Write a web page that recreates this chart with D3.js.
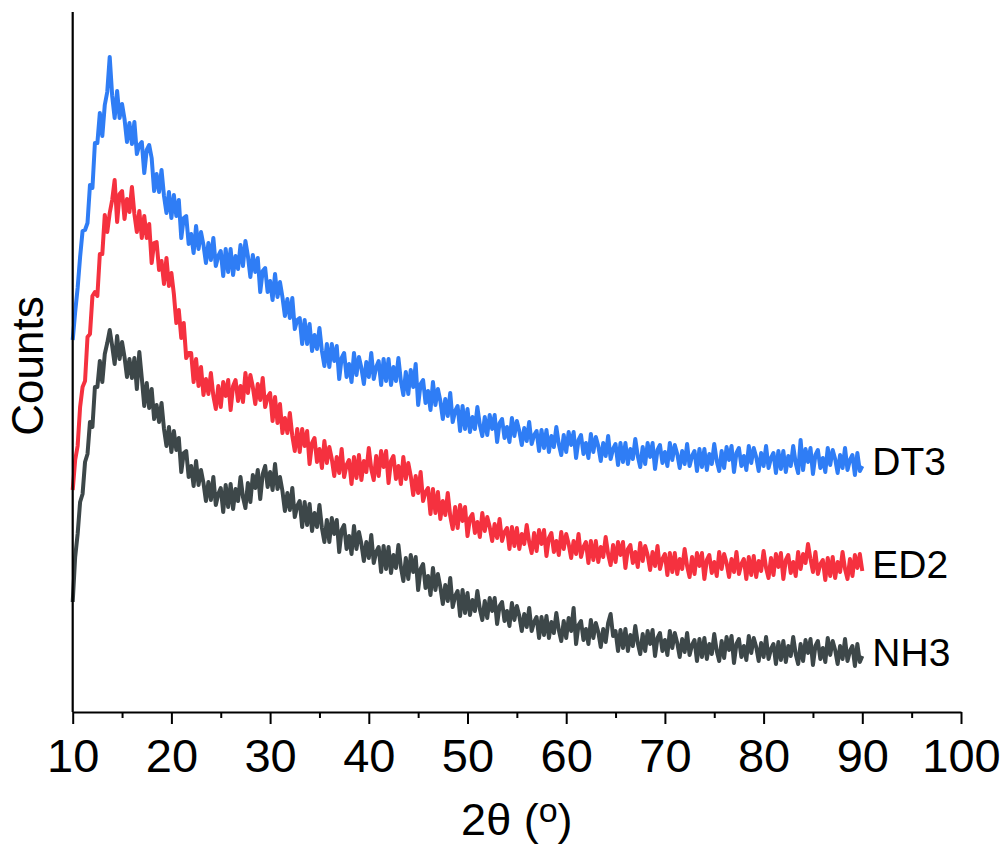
<!DOCTYPE html>
<html>
<head>
<meta charset="utf-8">
<script src="https://cdn.jsdelivr.net/npm/d3@7"></script>
<style>
  body { margin: 0; background: #fff; }
  text { font-family: "Liberation Sans", Arial, Helvetica, sans-serif; fill: #000; }
</style>
</head>
<body>
<div id="chart"></div>
<script>
// 2-theta grid: 10..90 deg, 0.25 deg step
const thetaStart = 10;
const thetaStep = 0.25;

// intensities (arbitrary counts), one row of 4 per degree
const dt3 = [
  372, 400, 424, 455,  481, 482, 489, 527,  524, 569, 569, 599,  576, 607, 620, 655,
  616, 594, 621, 594,  608, 593, 570, 589,  568, 590, 558, 567,  570, 539, 562, 567,
  554, 521, 538, 520,  542, 516, 499, 520,  494, 517, 496, 512,  474, 494, 496, 468,
  478, 459, 486, 463,  480, 467, 449, 469,  452, 474, 446, 456,  461, 436, 463, 440,
  463, 437, 456, 443,  467, 446, 471, 456,  435, 457, 440, 454,  420, 441, 444, 420,
  431, 412, 438, 415,  430, 415, 396, 413,  394, 414, 383, 392,  394, 368, 392, 368,
  388, 361, 377, 363,  384, 361, 346, 368,  345, 368, 351, 366,  333, 354, 359, 335,
  348, 330, 359, 337,  355, 344, 328, 350,  335, 359, 333, 345,  351, 327, 353, 331,
  353, 327, 345, 331,  354, 331, 317, 340,  318, 342, 325, 348,  307, 328, 332, 309,
  321, 302, 330, 307,  323, 311, 293, 313,  296, 319, 290, 301,  306, 281, 306, 283,
  303, 280, 295, 283,  305, 287, 276, 295,  277, 297, 283, 297,  270, 289, 293, 274,
  285, 270, 294, 276,  291, 281, 267, 284,  271, 290, 268, 277,  281, 261, 282, 264,
  282, 260, 276, 265,  285, 268, 257, 277,  260, 280, 267, 280,  254, 272, 277, 258,
  269, 254, 278, 260,  275, 266, 251, 269,  256, 276, 253, 263,  268, 247, 269, 250,
  269, 248, 263, 253,  273, 256, 245, 265,  248, 269, 255, 269,  243, 262, 267, 249,
  260, 246, 269, 252,  267, 258, 244, 261,  248, 268, 246, 256,  261, 241, 263, 245,
  263, 242, 258, 248,  268, 251, 241, 261,  244, 265, 252, 266,  240, 259, 264, 246,
  256, 242, 266, 249,  264, 255, 241, 259,  246, 266, 244, 254,  259, 239, 261, 243,
  261, 240, 256, 246,  266, 249, 239, 272,  242, 263, 250, 264,  238, 257, 262, 244,
  254, 240, 264, 247,  262, 253, 239, 257,  244, 264, 242, 252,  257, 237, 259, 241,
  246
];

const ed2 = [
  222, 252, 266, 305,  325, 331, 375, 378,  416, 420, 416, 458,  458, 497, 480, 499,
  512, 532, 490, 518,  521, 493, 513, 500,  525, 498, 480, 501,  474, 496, 474, 488,
  449, 469, 470, 442,  451, 428, 454, 426,  439, 418, 389, 402,  374, 389, 354, 359,
  359, 330, 353, 326,  345, 317, 333, 318,  339, 316, 303, 326,  305, 330, 316, 332,
  302, 326, 332, 311,  326, 310, 339, 319,  337, 325, 308, 328,  312, 334, 305, 315,
  319, 291, 315, 289,  308, 279, 294, 279,  299, 276, 261, 283,  260, 283, 266, 281,
  248, 269, 274, 250,  263, 244, 271, 249,  265, 253, 236, 255,  239, 263, 235, 247,
  252, 228, 255, 234,  257, 232, 251, 240,  264, 243, 232, 256,  236, 261, 245, 261,
  229, 251, 256, 233,  246, 228, 255, 233,  249, 236, 217, 236,  219, 240, 211, 220,
  224, 198, 223, 199,  220, 193, 211, 197,  219, 196, 183, 205,  184, 207, 191, 205,
  176, 194, 198, 179,  190, 175, 199, 181,  195, 185, 171, 188,  174, 193, 171, 180,
  184, 163, 185, 166,  184, 163, 178, 168,  187, 170, 159, 179,  161, 182, 168, 182,
  156, 174, 179, 160,  171, 157, 180, 163,  178, 168, 154, 171,  158, 178, 155, 165,
  170, 149, 171, 152,  171, 150, 165, 155,  175, 158, 147, 167,  150, 170, 157, 170,
  144, 163, 167, 149,  160, 145, 169, 151,  166, 157, 142, 160,  146, 166, 143, 153,
  158, 137, 159, 140,  159, 138, 153, 143,  163, 146, 135, 155,  138, 159, 146, 159,
  133, 152, 157, 139,  150, 136, 160, 143,  158, 149, 135, 153,  140, 160, 138, 148,
  153, 133, 155, 137,  156, 135, 151, 141,  161, 144, 134, 154,  137, 158, 145, 159,
  133, 152, 157, 139,  150, 136, 160, 143,  158, 149, 168, 153,  140, 160, 138, 148,
  152, 132, 154, 136,  155, 134, 150, 140,  160, 143, 133, 153,  136, 157, 144, 158,
  141
];

const nh3 = [
  110, 155, 178, 210,  218, 250, 258, 290,  285, 325, 325, 351,  330, 358, 369, 382,
  366, 348, 376, 353,  370, 355, 335, 353,  334, 354, 323, 360,  334, 306, 329, 304,
  323, 293, 307, 290,  309, 283, 266, 285,  260, 281, 262, 274,  240, 259, 261, 235,
  246, 226, 251, 227,  242, 229, 211, 230,  212, 235, 207, 218,  224, 200, 227, 205,
  228, 203, 223, 211,  235, 215, 204, 229,  210, 237, 224, 242,  213, 238, 246, 225,
  240, 222, 248, 223,  235, 221, 201, 219,  202, 224, 195, 206,  211, 185, 210, 187,
  208, 181, 199, 185,  207, 184, 170, 192,  170, 194, 178, 192,  160, 182, 187, 163,
  176, 158, 186, 163,  180, 168, 151, 170,  154, 177, 149, 160,  165, 140, 166, 143,
  165, 139, 157, 144,  167, 145, 131, 154,  133, 157, 140, 155,  122, 143, 148, 124,
  136, 117, 144, 122,  138, 125, 108, 127,  111, 134, 105, 116,  121,  96, 122,  99,
  119,  97, 112, 101,  121, 103,  92, 111,   94, 114, 101, 114,   88, 106, 110,  91,
  101,  86, 109,  92,  106,  96,  81,  98,   85, 104,  81,  90,   95,  74,  95,  77,
   96,  74,  90,  79,   99,  82,  71,  91,   74,  94,  81, 104,   68,  87,  91,  72,
   83,  68,  92,  74,   89,  80,  65,  83,   70,  89,  98,  76,   81,  61,  82,  64,
   83,  61,  77,  66,   86,  69,  58,  78,   61,  81,  68,  82,   56,  74,  79,  61,
   72,  57,  81,  64,   79,  69,  55,  73,   60,  79,  57,  67,   72,  51,  73,  55,
   74,  53,  68,  58,   78,  61,  51,  71,   54,  75,  62,  76,   49,  68,  73,  55,
   66,  52,  76,  59,   74,  65,  51,  69,   55,  75,  53,  63,   68,  48,  70,  52,
   71,  50,  66,  56,   75,  58,  48,  68,   51,  72,  59,  73,   47,  66,  71,  53,
   64,  50,  74,  57,   71,  62,  48,  66,   53,  73,  51,  61,   66,  46,  68,  50,
   56
];

const seriesNames = ["DT3", "ED2", "NH3"];
const seriesColors = ["#2f7df5", "#f5313f", "#3d4749"];
const xTicks = [10, 20, 30, 40, 50, 60, 70, 80, 90, 100];
const xMinorTicks = [15, 25, 35, 45, 55, 65, 75, 85, 95];

const width = 1006, height = 847;
const margin = { top: 12, right: 45, bottom: 135, left: 72.7 };

const svg = d3.select('#chart')
  .append('svg')
  .attr('width', width)
  .attr('height', height);

svg.append('rect')
  .attr('width', width)
  .attr('height', height)
  .attr('fill', '#fff');

const x = d3.scaleLinear()
  .domain([10, 100])
  .range([margin.left, width - margin.right]);

const y = d3.scaleLinear()
  .domain([0, 700])
  .range([height - margin.bottom, margin.top]);

const line = d3.line()
  .x((d, i) => x(thetaStart + i * thetaStep))
  .y(d => y(d));

// traces
[dt3, ed2, nh3].forEach((vals, k) => {
  svg.append('path')
    .datum(vals)
    .attr('fill', 'none')
    .attr('stroke', seriesColors[k])
    .attr('stroke-width', 4)
    .attr('stroke-linejoin', 'round')
    .attr('d', line);

  // label next to the end of the trace, at the mean level of the last points
  const last = vals.length - 1;
  const tailMean = d3.mean(vals.slice(-12));
  svg.append('text')
    .attr('x', x(thetaStart + last * thetaStep) + 10)
    .attr('y', y(tailMean) + 12)
    .attr('font-size', 39)
    .text(seriesNames[k]);
});

// x axis
const axisY = y(0);
svg.append('g')
  .attr('transform', `translate(0,${axisY})`)
  .call(d3.axisBottom(x).tickValues(xMinorTicks).tickSize(6).tickFormat(''))
  .call(g => g.select('.domain').remove())
  .call(g => g.selectAll('line').attr('stroke', '#000').attr('stroke-width', 2));

svg.append('g')
  .attr('transform', `translate(0,${axisY})`)
  .call(d3.axisBottom(x).tickValues(xTicks).tickSize(12).tickPadding(15).tickSizeOuter(0))
  .call(g => g.select('.domain').attr('stroke', '#000').attr('stroke-width', 2.2))
  .call(g => g.selectAll('line').attr('stroke', '#000').attr('stroke-width', 2))
  .call(g => g.selectAll('text')
    .attr('font-size', 47)
    .attr('font-family', '"Liberation Sans", Arial, sans-serif')
    .attr('fill', '#000'));

// y axis (no ticks)
svg.append('line')
  .attr('x1', x(10)).attr('x2', x(10))
  .attr('y1', y(700)).attr('y2', axisY)
  .attr('stroke', '#000')
  .attr('stroke-width', 2.2);

// axis titles
const xt = svg.append('text')
  .attr('x', (x(10) + x(100)) / 2)
  .attr('y', 835)
  .attr('text-anchor', 'middle')
  .attr('font-size', 45);
xt.append('tspan').text('2θ (');
xt.append('tspan').attr('font-size', 34).attr('dy', -13).text('o');
xt.append('tspan').attr('dy', 13).text(')');

svg.append('text')
  .attr('transform', `translate(43,${(y(700) + axisY) / 2 + 4}) rotate(-90)`)
  .attr('text-anchor', 'middle')
  .attr('font-size', 44)
  .text('Counts');
</script>
</body>
</html>
